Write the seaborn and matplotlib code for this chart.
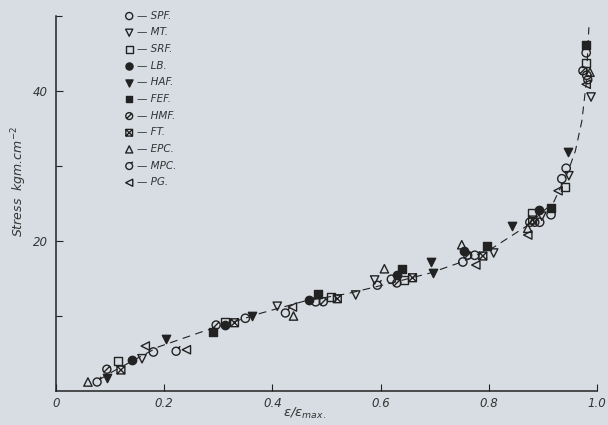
import numpy as np
import matplotlib
matplotlib.use("Agg")
import matplotlib.pyplot as plt
from matplotlib.path import Path
import seaborn as sns

# ---- data: normalised strain (e/e_max) vs stress (kgm/cm^2) per material ----
spf_x = [0.180, 0.350, 0.480, 0.620, 0.752, 0.774, 0.876, 0.894, 0.915, 0.935, 0.943, 0.980, 0.981]
spf_y = [5.2, 9.7, 11.9, 14.9, 17.2, 18.1, 22.5, 22.5, 23.5, 28.3, 29.7, 45.1, 42.1]

mt_x = [0.159, 0.409, 0.554, 0.589, 0.809, 0.898, 0.948, 0.989]
mt_y = [4.3, 11.3, 12.8, 14.8, 18.4, 23.3, 28.7, 39.2]

srf_x = [0.115, 0.313, 0.509, 0.644, 0.880, 0.941, 0.980]
srf_y = [4.0, 9.2, 12.5, 14.8, 23.7, 27.2, 43.7]

lb_x = [0.141, 0.313, 0.467, 0.631, 0.754, 0.893]
lb_y = [4.1, 8.8, 12.1, 15.5, 18.7, 24.1]

haf_x = [0.094, 0.204, 0.363, 0.694, 0.696, 0.843, 0.946]
haf_y = [1.7, 6.9, 10.0, 17.2, 15.7, 22.0, 31.9]

fef_x = [0.291, 0.485, 0.639, 0.796, 0.915, 0.980]
fef_y = [7.9, 12.9, 16.3, 19.3, 24.4, 46.1]

hmf_x = [0.094, 0.296, 0.494, 0.630, 0.761, 0.885, 0.974]
hmf_y = [2.9, 8.8, 11.9, 14.4, 18.1, 22.5, 42.7]

ft_x = [0.120, 0.330, 0.520, 0.659, 0.789, 0.881]
ft_y = [2.8, 9.1, 12.3, 15.1, 18.0, 22.8]

epc_x = [0.059, 0.439, 0.607, 0.750, 0.872, 0.987]
epc_y = [1.2, 10.0, 16.3, 19.5, 21.7, 42.5]

mpc_x = [0.076, 0.222, 0.424, 0.594, 0.983]
mpc_y = [1.2, 5.3, 10.4, 14.1, 41.5]

pg_x = [0.165, 0.241, 0.437, 0.776, 0.872, 0.928, 0.980]
pg_y = [6.0, 5.5, 11.2, 16.8, 20.8, 26.7, 40.9]

# trend curve drawn through the scatter
curve_x = [0.08, 0.10, 0.19, 0.27, 0.38, 0.46, 0.54, 0.62, 0.69, 0.75, 0.81,
           0.87, 0.92, 0.945, 0.96, 0.972, 0.980, 0.985]
curve_y = [1.5, 2.4, 5.9, 7.9, 10.4, 12.0, 13.0, 14.4, 15.7, 17.2, 19.2,
           22.0, 25.2, 29.0, 32.0, 36.0, 41.0, 48.5]

labels = ["SPF.", "MT.", "SRF.", "LB.", "HAF.", "FEF.", "HMF.", "FT.", "EPC.", "MPC.", "PG."]

x_ticks = [0, 0.2, 0.4, 0.6, 0.8, 1.0]
x_ticklabels = ["0", "0.2", "0.4", "0.6", "0.8", "1.0"]
y_ticks = [20, 40]
y_ticklabels = ["20", "40"]

# ---- custom marker shapes ----
circ = Path.unit_circle()
slash = Path([(-0.75, -0.75), (0.75, 0.75)], [Path.MOVETO, Path.LINETO])
circle_slash = Path.make_compound_path(circ, slash)

sq = Path([(-1, -1), (1, -1), (1, 1), (-1, 1), (-1, -1)],
          [Path.MOVETO, Path.LINETO, Path.LINETO, Path.LINETO, Path.CLOSEPOLY])
cross = Path([(-1, -1), (1, 1), (-1, 1), (1, -1)],
             [Path.MOVETO, Path.LINETO, Path.MOVETO, Path.LINETO])
boxed_x = Path.make_compound_path(sq, cross)

stem = Path([(0.6, 0.8), (1.05, 1.25)], [Path.MOVETO, Path.LINETO])
circle_stem = Path.make_compound_path(circ, stem)

INK = "#222222"
BG = "#d7dde3"

# (x, y, marker, filled, marker area)
series = [
    (spf_x, spf_y, "o", False, 36),
    (mt_x, mt_y, "v", False, 36),
    (srf_x, srf_y, "s", False, 34),
    (lb_x, lb_y, "o", True, 36),
    (haf_x, haf_y, "v", True, 36),
    (fef_x, fef_y, "s", True, 34),
    (hmf_x, hmf_y, circle_slash, False, 34),
    (ft_x, ft_y, boxed_x, False, 32),
    (epc_x, epc_y, "^", False, 36),
    (mpc_x, mpc_y, circle_stem, False, 52),
    (pg_x, pg_y, "<", False, 36),
]

sns.set_style("ticks")
plt.rcParams["font.family"] = ["DejaVu Sans"]
plt.rcParams["mathtext.fontset"] = "dejavusans"

fig = plt.figure(figsize=(6.08, 4.25), dpi=100, facecolor=BG)
ax = fig.add_axes([56 / 608, 1 - 391 / 425, 541 / 608, 375 / 425])
ax.set_facecolor(BG)

sns.lineplot(x=curve_x, y=curve_y, ax=ax, sort=False, color=INK,
             linewidth=0.8, linestyle=(0, (7, 5)), estimator=None)

for (xs, ys, mk, filled, area), lab in zip(series, labels):
    sns.scatterplot(x=xs, y=ys, ax=ax, marker=mk, s=area,
                    facecolor=INK if filled else "none", edgecolor=INK,
                    linewidth=1.0, label="— " + lab, zorder=3)

ax.set_xlim(0, 1.0)
ax.set_ylim(0, 50)
ax.set_xticks(x_ticks)
ax.set_xticklabels(x_ticklabels, fontstyle="italic", fontsize=8.5, color="#333")
ax.set_yticks(y_ticks)
ax.set_yticklabels(y_ticklabels, fontstyle="italic", fontsize=8.5, color="#333")
ax.set_yticks([10, 30, 50], minor=True)
ax.tick_params(axis="both", which="major", direction="in", length=5, width=0.8,
               colors=INK, labelcolor="#333", pad=6)
ax.tick_params(axis="y", which="minor", direction="in", length=4, width=0.8, colors=INK)
ax.tick_params(axis="x", which="major", pad=4)

sns.despine(ax=ax)
for s in ("left", "bottom"):
    ax.spines[s].set_color(INK)
    ax.spines[s].set_linewidth(1.1)

ax.set_ylabel("Stress  kgm.cm$^{-2}$", fontstyle="italic", fontsize=9, color="#333")
ax.yaxis.set_label_coords(-0.05, 0.56)
ax.set_xlabel(r"ε/ε$_{\mathit{max.}}$", fontstyle="italic", fontsize=9.5, color="#333")
ax.xaxis.set_label_coords(0.46, -0.04)

leg = ax.legend(loc="upper left", bbox_to_anchor=(0.118, 1.025), frameon=False,
                handletextpad=0.2, labelspacing=0.64, handlelength=1.0,
                markerscale=0.85, borderaxespad=0,
                prop={"style": "italic", "size": 7.5})
for t in leg.get_texts():
    t.set_color("#333")

fig.savefig("out.png", dpi=100, facecolor=BG)
